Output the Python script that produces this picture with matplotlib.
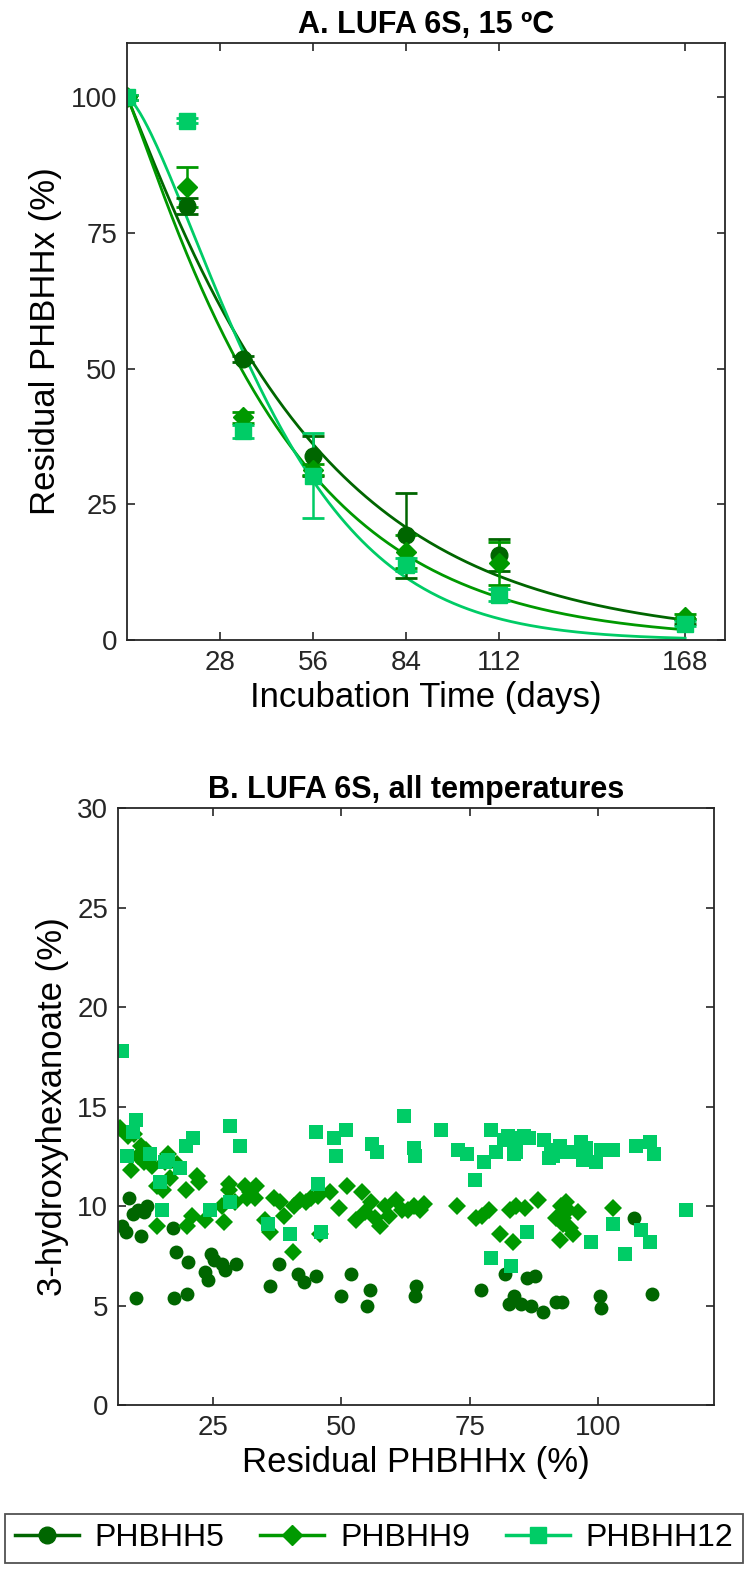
import numpy as np
import matplotlib
matplotlib.use("Agg")
import matplotlib.pyplot as plt
from matplotlib.lines import Line2D

plt.rcParams['font.family'] = ['Liberation Sans', 'DejaVu Sans']

# ---- panel A: residual polymer over time ----
days = [0, 18, 35, 56, 84, 112, 168]
h5_res = [100, 79.9, 51.8, 33.9, 19.3, 15.7, 3.4]
h5_err = [0.5, 1.5, 0.5, 3.7, 7.8, 3.0, 0.5]
h9_res = [100, 83.4, 41.0, 31.4, 16.3, 14.1, 4.3]
h9_err = [0.5, 3.7, 1.0, 1.0, 3.0, 4.0, 0.5]
h12_res = [100, 95.7, 38.5, 30.3, 13.9, 8.3, 3.0]
h12_err = [0.5, 0.5, 1.2, 7.9, 1.2, 1.1, 0.5]

# fitted decay models (tau in days, shape beta)
fit_tau = [55.0, 47.9, 48.4]
fit_beta = [1.07, 1.10, 1.40]

# ---- panel B: 3HHx content vs residual polymer ----
x5 = [7.3, 8.1, 8.7, 9.4, 10.0, 10.4, 11.0, 11.6, 12.2, 17.2, 17.4, 17.8, 19.9, 20.1,
      23.4, 24.0, 24.6, 25.2, 26.8, 27.3, 29.5, 36.1, 37.8, 41.5, 42.7, 45.0, 49.9,
      51.8, 54.9, 55.5, 64.5, 64.3, 77.1, 81.8, 82.6, 83.6, 84.9, 86.1, 86.9, 87.6,
      89.2, 91.7, 92.9, 100.3, 100.5, 106.9, 110.4]
y5 = [9.0, 8.7, 10.4, 9.6, 5.4, 9.8, 8.5, 9.7, 10.0, 8.9, 5.4, 7.7, 5.6, 7.2,
      6.7, 6.3, 7.6, 7.3, 7.1, 6.8, 7.1, 6.0, 7.1, 6.6, 6.2, 6.5, 5.5,
      6.6, 5.0, 5.8, 6.0, 5.5, 5.8, 6.6, 5.1, 5.5, 5.1, 6.4, 5.0, 6.5,
      4.7, 5.2, 5.2, 5.5, 4.9, 9.4, 5.6]

x9 = [6.9, 8.5, 9.0, 9.6, 10.4, 11.0, 11.6, 12.0, 12.4, 13.1, 14.1, 14.1, 15.3, 15.7,
      16.2, 16.6, 18.0, 19.9, 19.7, 20.9, 21.9, 22.3, 23.4, 26.8, 27.1, 28.1, 28.1,
      29.3, 31.2, 31.6, 32.2, 33.4, 33.2, 35.1, 36.1, 36.9, 38.0, 38.8, 40.6, 40.8,
      41.9, 43.1, 44.1, 45.4, 45.8, 47.8, 49.5, 51.1, 52.8, 54.0, 54.6, 55.7, 56.5,
      57.5, 58.5, 59.2, 60.6, 61.8, 62.9, 64.1, 65.3, 66.1, 72.5, 76.1, 77.3, 78.7,
      80.8, 82.8, 83.4, 83.9, 85.7, 88.2, 91.7, 92.7, 92.5, 93.1, 93.7, 94.1, 94.5,
      95.0, 96.0, 93.1, 102.8]
y9 = [13.9, 13.5, 11.8, 13.6, 12.5, 13.0, 12.2, 12.8, 12.3, 12.0, 11.0, 9.0, 10.8, 12.2,
      12.6, 11.4, 12.1, 9.0, 10.8, 9.5, 11.5, 11.2, 9.3, 10.0, 9.2, 10.8, 11.1,
      10.2, 11.0, 10.4, 10.7, 11.0, 10.4, 9.3, 8.7, 10.4, 10.2, 9.5, 7.7, 10.0,
      10.3, 10.2, 10.4, 10.5, 8.6, 10.7, 9.9, 11.0, 9.3, 10.7, 9.7, 10.2, 9.4,
      9.0, 10.0, 9.5, 10.3, 9.8, 9.8, 10.0, 9.8, 10.1, 10.0, 9.4, 9.5, 9.8,
      8.6, 9.8, 8.2, 10.0, 9.9, 10.3, 9.4, 10.0, 8.3, 9.1, 10.2, 9.8, 8.9,
      8.6, 9.7, 9.4, 9.9]

x12 = [7.3, 8.3, 10.0, 9.4, 12.7, 14.7, 15.1, 15.7, 16.2, 18.6, 19.7, 21.1, 24.4, 28.3,
       28.3, 30.3, 35.7, 40.0, 45.0, 45.4, 46.0, 48.5, 48.9, 50.9, 55.9, 56.9, 62.2,
       64.1, 64.3, 69.4, 72.7, 74.4, 76.0, 77.7, 79.1, 79.1, 80.1, 81.6, 82.4, 83.6,
       83.0, 83.9, 83.9, 85.5, 86.1, 86.5, 89.4, 90.4, 90.8, 91.1, 92.5, 93.7, 95.0,
       96.6, 97.0, 97.6, 98.5, 99.5, 100.5, 102.8, 102.8, 105.2, 107.3, 108.3, 110.0,
       110.0, 110.8, 117.0]
y12 = [17.8, 12.5, 14.3, 13.7, 12.6, 11.2, 9.8, 12.2, 12.3, 11.9, 13.0, 13.4, 9.8, 14.0,
       10.2, 13.0, 9.1, 8.6, 13.7, 11.1, 8.7, 13.4, 12.5, 13.8, 13.1, 12.7, 14.5,
       12.9, 12.5, 13.8, 12.8, 12.6, 11.3, 12.2, 7.4, 13.8, 12.7, 13.3, 13.5, 12.6,
       7.0, 13.4, 12.7, 13.5, 8.7, 13.4, 13.3, 12.4, 12.8, 12.5, 13.0, 12.7, 12.7,
       13.2, 12.3, 12.9, 8.2, 12.2, 12.8, 9.1, 12.8, 7.6, 13.0, 8.8, 13.2,
       8.2, 12.6, 9.8]

names = ['PHBHH5', 'PHBHH9', 'PHBHH12']
colors = ['#006600', '#009900', '#00CC66']
markers = ['o', 'D', 's']
msizes = [12, 10, 11]

fig = plt.figure(figsize=(7.49, 15.69), dpi=100)
axA = fig.add_axes([0.1696, 0.5921, 0.7984, 0.3805])
axB = fig.add_axes([0.1575, 0.1045, 0.7958, 0.3805])

t = np.linspace(0, 168, 300)
series = [(h5_res, h5_err), (h9_res, h9_err), (h12_res, h12_err)]
for i in range(3):
    axA.plot(t, 100 * np.exp(-(t / fit_tau[i]) ** fit_beta[i]), color=colors[i], lw=2)
for i in range(3):
    res, err = series[i]
    axA.errorbar(days, res, yerr=err, fmt=markers[i], color=colors[i], ms=msizes[i],
                 mec=colors[i], capsize=8, elinewidth=1.8, capthick=2)

axA.set_xlim(0, 180)
axA.set_ylim(0, 110)
axA.set_xticks([28, 56, 84, 112, 168])
axA.set_yticks([0, 25, 50, 75, 100])
axA.set_xlabel('Incubation Time (days)', fontsize=25, labelpad=4)
axA.set_ylabel('Residual PHBHHx (%)', fontsize=25, labelpad=6)
axA.set_title('A. LUFA 6S, 15 ºC', fontsize=22, fontweight='bold', pad=7)

xs = [x5, x9, x12]
ys = [y5, y9, y12]
bsizes = [10, 9, 10]
for i in range(3):
    axB.plot(xs[i], ys[i], linestyle='none', marker=markers[i], color=colors[i],
             ms=bsizes[i], mew=0)

axB.set_xlim(6.5, 122.5)
axB.set_ylim(0, 30)
axB.set_xticks([25, 50, 75, 100])
axB.set_yticks([0, 5, 10, 15, 20, 25, 30])
axB.set_xlabel('Residual PHBHHx (%)', fontsize=25, labelpad=4)
axB.set_ylabel('3-hydroxyhexanoate (%)', fontsize=25, labelpad=6)
axB.set_title('B. LUFA 6S, all temperatures', fontsize=22, fontweight='bold', pad=7)

for ax in [axA, axB]:
    for s in ax.spines.values():
        s.set_color('#262626')
        s.set_linewidth(1.3)
    ax.tick_params(direction='in', top=True, right=True, length=6, width=1.2,
                   labelsize=20, colors='#262626', pad=7)

handles = []
for i in range(3):
    handles.append(Line2D([], [], color=colors[i], marker=markers[i], ms=msizes[i], lw=2.5))
leg = fig.legend(handles, names, loc='lower left', bbox_to_anchor=(0.007, 0.004, 0.985, 0.033),
                 mode='expand', ncol=3, fontsize=23, frameon=True, fancybox=False,
                 edgecolor='#262626', handlelength=2.0, handletextpad=0.5,
                 borderaxespad=0, borderpad=0.3)
leg.get_frame().set_linewidth(1.3)

fig.savefig('out.png', dpi=100)
